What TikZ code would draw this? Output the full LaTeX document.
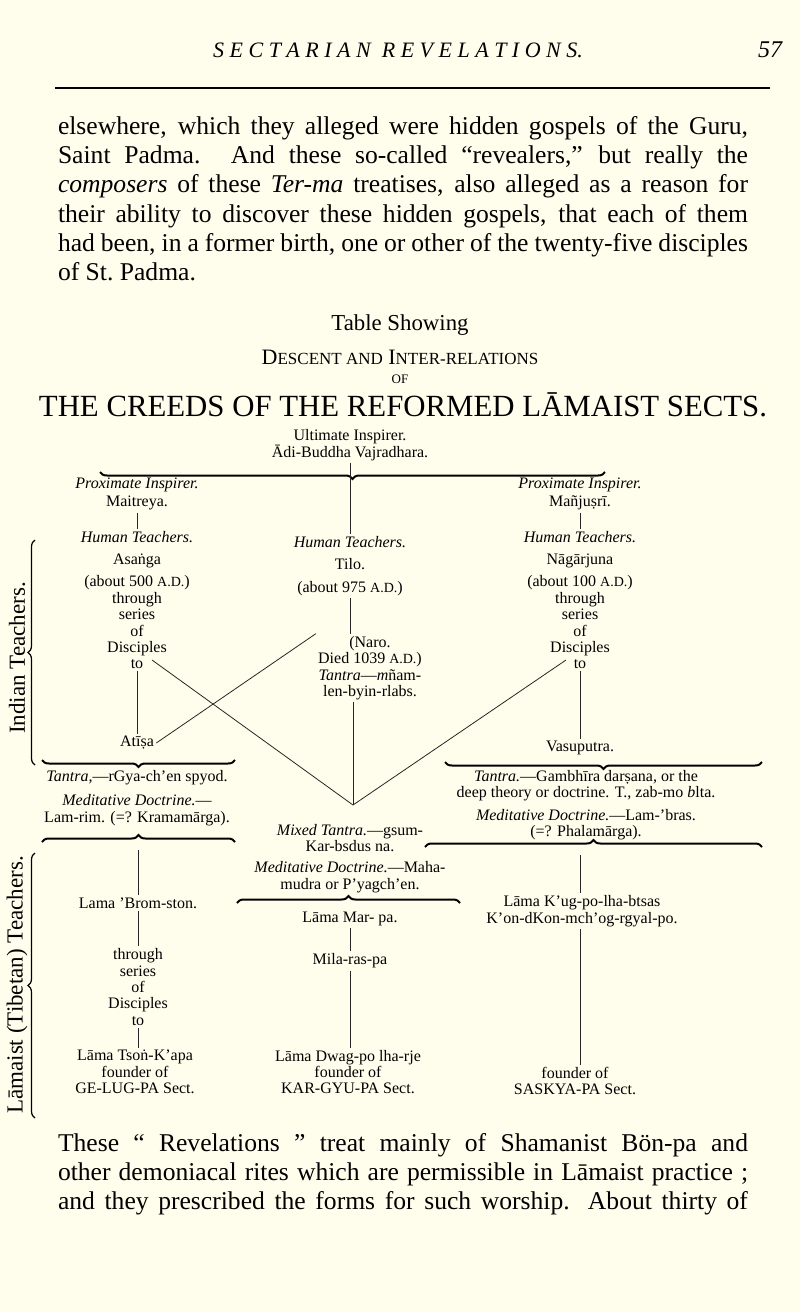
\documentclass[tikz,border=0pt]{standalone}
\usepackage{fontspec}
\setmainfont{Liberation Serif}
\usetikzlibrary{decorations.pathreplacing}
\newcommand{\ad}{{\scriptsize A.D.}}
\tikzset{
  txt/.style={align=center,inner sep=1pt,font=\fontsize{8}{8.2}\selectfont},
  side/.style={inner sep=1pt,rotate=90,font=\fontsize{11.5}{12}\selectfont},
  para/.style={anchor=north,text width=345pt,align=justify,inner sep=0,
    font=\fontsize{12.8}{14.6}\selectfont},
  link/.style={draw=black!85,line width=0.4pt},
  brc/.style={decorate,decoration={brace,amplitude=3.5pt},line width=1pt}
}
\begin{document}
\begin{tikzpicture}[x=0.5pt,y=-0.5pt]
  \fill[white!93!yellow] (0,0) rectangle (800,1312);
  % page head
  \node (head) at (398,50) {\fontsize{11}{14}\selectfont\itshape S E C T A R I A N\ \ R E V E L A T I O N S.};
  \node (pnum) at (770,50) {\fontsize{12}{14}\selectfont\itshape 57};
  \draw[line width=0.6pt] (55,88) -- (770,88);
  \node[para] (top) at (403,116) {elsewhere, which they alleged were hidden gospels of the Guru,\linebreak
    Saint Padma. And these so-called “revealers,” but really the\linebreak
    \emph{composers} of these \emph{Ter-ma} treatises, also alleged as a reason for\linebreak
    their ability to discover these hidden gospels, that each of them\linebreak
    had been, in a former birth, one or other of the twenty-five disciples\linebreak
    of St.\ Padma.};
  % title
  \node (t1) at (400,325) {\fontsize{11.4}{12}\selectfont Table Showing};
  \node (t2) at (400,357) {\fontsize{11}{12}\selectfont D{\fontsize{8.5}{10}\selectfont ESCENT AND} I{\fontsize{8.5}{10}\selectfont NTER-RELATIONS}};
  \node (t3) at (400,379) {\fontsize{6.5}{8}\selectfont OF};
  \node (t4) at (403,405) {\fontsize{15.4}{16}\selectfont THE CREEDS OF THE REFORMED LĀMAIST SECTS.};
  % top of table
  \node[txt] (ult) at (350,445) {Ultimate Inspirer.\\Ādi-Buddha Vajradhara.};
  \draw[brc] (605,472) -- (100,472);
  \node[txt] (pl) at (137,494) {\textit{Proximate Inspirer.}\\[1pt]Maitreya.};
  \node[txt] (pr) at (580,494) {\textit{Proximate Inspirer.}\\[1pt]Mañjuṣrī.};
  \node[txt] (hl) at (137,600) {\textit{Human Teachers.}\\[3pt]Asaṅga\\[3pt](about 500 \ad)\\through\\series\\of\\Disciples\\to};
  \node[txt] (hm) at (350,566) {\textit{Human Teachers.}\\[3pt]Tilo.\\[3pt](about 975 \ad)};
  \node[txt] (hr) at (580,600) {\textit{Human Teachers.}\\[3pt]Nāgārjuna\\[3pt](about 100 \ad)\\through\\series\\of\\Disciples\\to};
  \node[txt] (naro) at (370,668) {(Naro.\\Died 1039 \ad)\\\textit{Tantra}—\textit{m}ñam-\\len-byin-rlabs.};
  \node[txt] (atisa) at (137,743) {Atīṣa};
  \node[txt] (vasu) at (580,748) {Vasuputra.};
  \coordinate (tol) at (152,660);
  \coordinate (tor) at (566,660);
  \coordinate (v) at (353,805);
  \draw[link] (ult.south) -- (hm.north);
  \draw[link] (pl.south) -- (hl.north);
  \draw[link] (pr.south) -- (hr.north);
  \draw[link] (hl.south) -- (atisa.north);
  \draw[link] (hr.south) -- (vasu.north);
  \draw[link] (hm.south) -- (hm.south |- naro.north);
  \draw[link] (atisa.east) -- (naro.north west);
  \draw[link] (tol) -- (v);
  \draw[link] (tor) -- (v);
  \draw[link] (naro.south -| v) -- (v);
  % doctrines
  \draw[brc] (235,760) -- (42,760);
  \draw[brc] (762,762) -- (445,762);
  \node[txt] (tl) at (137,798) {\textit{Tantra,}—rGya-ch’en spyod.\\[4pt]\textit{Meditative Doctrine.}—\\Lam-rim. (=? Kramamārga).};
  \node[txt] (tr) at (586,805) {\textit{Tantra.}—Gambhīra darṣana, or the\\deep theory or doctrine. T., zab-mo \textit{b}lta.\\[3pt]\textit{Meditative Doctrine.}—Lam-’bras.\\(=? Phalamārga).};
  \node[txt] (mixed) at (350,838) {\textit{Mixed Tantra.}—gsum-\\Kar-bsdus na.};
  \node[txt] (medc) at (350,877) {\textit{Meditative Doctrine.}—Maha-\\mudra or P’yagch’en.};
  \draw[brc] (42,842) -- (235,842);
  \draw[brc] (425,847) -- (762,847);
  \draw[brc] (237,903) -- (460,903);
  \coordinate (bl) at (138,850);
  \coordinate (br) at (580,855);
  % Tibetan teachers
  \node[txt] (brom) at (138,903) {Lama ’Brom-ston.};
  \node[txt] (thr) at (138,987) {through\\series\\of\\Disciples\\to};
  \node[txt] (tsong) at (135,1072) {Lāma Tsoṅ-K’apa\\founder of\\GE-LUG-PA Sect.};
  \node[txt] (marpa) at (350,919) {Lāma Mar- pa.};
  \node[txt] (mila) at (350,961) {Mila-ras-pa};
  \node[txt] (dwag) at (348,1072) {Lāma Dwag-po lha-rje\\founder of\\KAR-GYU-PA Sect.};
  \node[txt] (kug) at (582,911) {Lāma K’ug-po-lha-btsas\\K’on-dKon-mch’og-rgyal-po.};
  \node[txt] (sask) at (575,1081) {founder of\\SASKYA-PA Sect.};
  \draw[link] (bl) -- (brom.north);
  \draw[link] (brom.south) -- (thr.north);
  \draw[link] (thr.south) -- (thr.south |- tsong.north);
  \draw[link] (marpa.south) -- (mila.north);
  \draw[link] (mila.south) -- (mila.south |- dwag.north);
  \draw[link] (br) -- (kug.north -| br);
  \draw[link] (kug.south -| br) -- (sask.north -| br);
  % side labels
  \draw[brc,line width=0.6pt] (35,765) -- (35,540);
  \draw[brc,line width=0.6pt] (35,1118) -- (35,853);
  \node[side] (ind) at (17,658) {Indian Teachers.};
  \node[side] (lam) at (17,985) {Lāmaist (Tibetan) Teachers.};
  % text below
  \node[para] (bot) at (403,1133) {These “ Revelations ” treat mainly of Shamanist Bön-pa and\linebreak
    other demoniacal rites which are permissible in Lāmaist practice ;\linebreak
    and they prescribed the forms for such worship. About thirty of\linebreak};
\end{tikzpicture}
\end{document}
